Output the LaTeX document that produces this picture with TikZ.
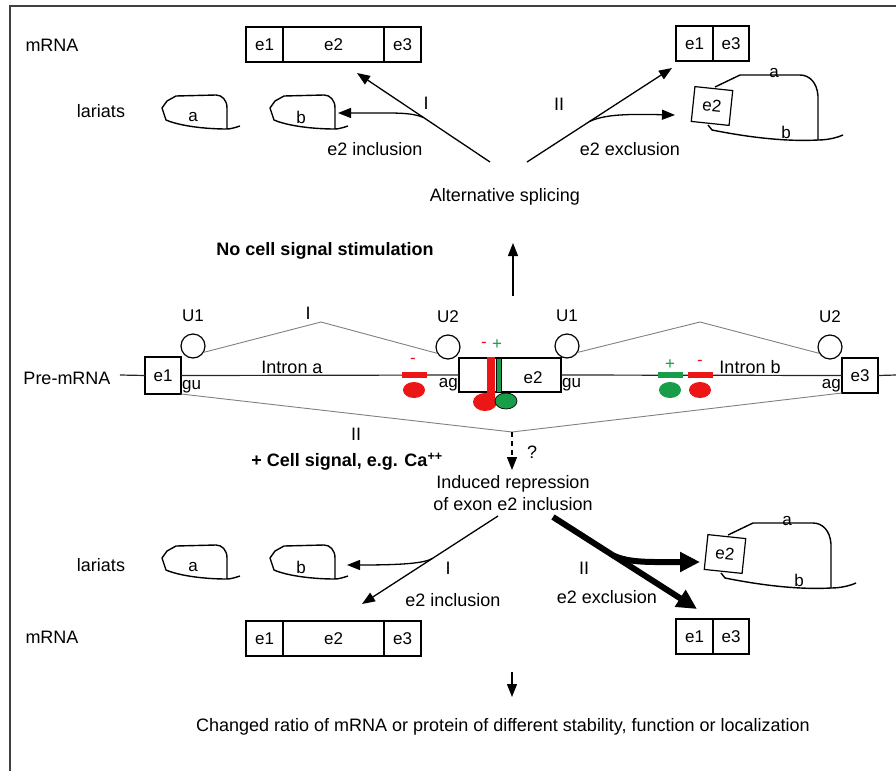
\documentclass[tikz,border=0pt]{standalone}
\usepackage{fontspec}
\setmainfont{Liberation Sans}
\usetikzlibrary{arrows.meta, positioning, calc}
\definecolor{sgred}{RGB}{236, 22, 22}
\definecolor{sggreen}{RGB}{24, 158, 72}
\definecolor{framegray}{gray}{0.25}
\newcommand{\maintxt}{\fontsize{18}{21.6}\selectfont}
\newcommand{\smalltxt}{\fontsize{17}{20}\selectfont}
\tikzset{
  exon/.style={draw, line width=1.2pt, outer sep=0pt, inner sep=0pt, minimum height=35pt, font=\smalltxt},
  snrnp/.style={draw, circle, line width=1.2pt, minimum size=24pt, inner sep=0pt},
  splice/.style={gray, line width=0.9pt},
  strand/.style={black!85, line width=1.2pt},
  lar/.style={line width=1.4pt, line join=round},
  arr/.style={line width=1.3pt, -{Triangle[length=13pt,width=10pt]}},
  bigarr/.style={line width=6pt, -{Triangle[length=20pt,width=19pt]}},
  lbl/.style={font=\maintxt, inner sep=0pt},
  slbl/.style={font=\smalltxt, inner sep=1pt},
}
% lariat: x, y, name, label
\newcommand{\lariat}[4]{%
  \begin{scope}[shift={(#1,#2)}]
    \draw[lar] (47,9) .. controls (41,11) and (37,12) .. (34,12) -- (34,-9)
      .. controls (34,-17) and (29,-22) .. (23,-22) -- (-17,-21) -- (-26,-16)
      -- (-31,-9) -- (-27,3) .. controls (-13,9) and (12,12) .. (34,12);
    \node[slbl] (#3) at (0,0) {#4};
  \end{scope}}
% lariat with exon e2: x, y, name
\newcommand{\exlariat}[3]{%
  \begin{scope}[shift={(#1,#2)}]
    \node[exon, minimum width=38pt, minimum height=35pt, rotate=-6] (#3) at (0,0) {e2};
    \draw[lar] (3,-19) -- (28,-31) -- (88,-31) .. controls (97,-31) and (105,-24) .. (106,-10) -- (106,34);
    \draw[lar] (-4,19) -- (0,24) .. controls (30,30) and (70,36) .. (106,34)
      .. controls (115,34) and (124,32) .. (131,29);
    \node[slbl] (#3-a) at (62,-33) {a};
    \node[slbl] (#3-b) at (74,26) {b};
  \end{scope}}

\begin{document}
\begin{tikzpicture}[x=1pt, y=-1pt]
  \useasboundingbox (0,0) rectangle (896,771);
  % frame
  \draw[line width=2pt, framegray] (10,771) -- (10,6) -- (896,6);

  % no signal: products
  \node[lbl] (tmrna) at (52,45) {mRNA};
  \node[lbl] (tlar) at (101,111) {lariats};
  \node[exon, minimum width=37pt] (te1) at (264.5,44.5) {e1};
  \node[exon, minimum width=101pt, right=0pt of te1] (te2) {e2};
  \node[exon, minimum width=37pt, right=0pt of te2] (te3) {e3};
  \node[exon, minimum width=37pt] (tx1) at (694.5,43.5) {e1};
  \node[exon, minimum width=36pt, right=0pt of tx1] (tx3) {e3};
  \lariat{193}{117}{tla}{a}
  \lariat{301}{117}{tlb}{b}
  \exlariat{712}{106}{tle}

  \coordinate (tIs) at (490,162);
  \coordinate (tIe) at (357,73);
  \coordinate (tIj) at ($(tIs)!0.5!(tIe)$);
  \coordinate (tIb) at (338,113);
  \draw[arr] (tIs) -- (tIe);
  \draw[arr] (tIj) .. controls (410,112) and (395,113) .. (tIb);
  \coordinate (tIIs) at (527,162);
  \coordinate (tIIe) at (672,68);
  \coordinate (tIIj) at ($(tIIs)!0.43!(tIIe)$);
  \coordinate (tIIb) at (675,115);
  \draw[arr] (tIIs) -- (tIIe);
  \draw[arr] (tIIj) .. controls (605,114) and (630,114) .. (tIIb);

  \node[lbl] (tI) at (426,103) {I};
  \node[lbl] (tII) at (559,104) {II};
  \node[lbl] (tinc) at (375,149) {e2 inclusion};
  \node[lbl] (texc) at (630,149) {e2 exclusion};
  \node[lbl] (alt) at (505,197) {Alternative splicing};
  \node[lbl, font=\maintxt\bfseries] (nosig) at (325,251) {No cell signal stimulation};
  \coordinate (upS) at (513,296);
  \coordinate (upE) at (513,243);
  \draw[arr] (upS) -- (upE);

  % pre-mRNA
  \node[lbl] (pre) at (67,378) {Pre-mRNA};
  \node[exon, minimum width=36pt, minimum height=37pt] (pe1) at (163,375.5) {e1};
  \node[exon, minimum width=102pt, minimum height=34pt] (pe2) at (510,375) {};
  \node[exon, minimum width=36pt, minimum height=35pt] (pe3) at (860,375.5) {e3};
  \node[slbl] (pe2t) at (533,378) {e2};
  \coordinate (preS) at (120,375);
  \coordinate (preE) at (896,375);
  \draw[strand] (preS) -- (pe1.west) (pe1.east) -- (pe2.west)
    (pe2.east) -- (pe3.west) (pe3.east) -- (preE);

  \node[snrnp] (u1a) at (193,346) {};
  \node[snrnp] (u2a) at (448,347) {};
  \node[snrnp] (u1b) at (567,346) {};
  \node[snrnp] (u2b) at (830,347) {};
  \foreach \cn/\cl in {u1a/U1, u2a/U2, u1b/U1, u2b/U2}
    \node[slbl, above=11pt of \cn] (l\cn) {\cl};

  \coordinate (pkI) at (321,322);
  \coordinate (pkIb) at (700,322);
  \coordinate (pkII) at (512,432);
  \draw[splice] (u1a.-30) -- (pkI) -- (u2a.210);
  \draw[splice] (u1b.-30) -- (pkIb) -- (u2b.210);
  \draw[splice] (pe1.south east) -- (pkII) -- (pe3.south west);
  \node[lbl] (pI) at (308,313) {I};
  \node[lbl] (pII) at (356,434) {II};
  \node[lbl] (ina) at (292,367) {Intron a};
  \node[lbl] (inb) at (750,367) {Intron b};

  \node[slbl, anchor=south west] (gua) at (pe1.south east) {gu};
  \node[slbl, anchor=south east] (aga) at (pe2.south west) {ag};
  \node[slbl, anchor=south west] (gub) at (pe2.south east) {gu};
  \node[slbl, anchor=south east] (agb) at (pe3.south west) {ag};

  % regulators, intron a
  \fill[sgred] (402,372) rectangle (427,378);
  \fill[sgred] (414,390) ellipse [x radius=11pt, y radius=8pt];
  \node[slbl, text=sgred] (ma) at (413,361) {-};
  % regulators, exon e2
  \fill[sgred] (487,357) rectangle (495,397);
  \filldraw[fill=sggreen, draw=black, line width=0.7pt] (496,358) rectangle (501,392);
  \fill[sgred] (485,402) ellipse [x radius=12pt, y radius=9pt];
  \filldraw[fill=sggreen, draw=black, line width=0.7pt] (506,401) ellipse [x radius=11pt, y radius=8pt];
  \node[slbl, text=sgred] (me2) at (484,345) {-};
  \node[slbl, text=sggreen] (pse2) at (497,345) {+};
  % regulators, intron b
  \fill[sggreen] (658,372) rectangle (683,378);
  \fill[sggreen] (670,390) ellipse [x radius=11pt, y radius=8pt];
  \fill[sgred] (688,372) rectangle (713,378);
  \fill[sgred] (700,390) ellipse [x radius=11pt, y radius=8pt];
  \node[slbl, text=sggreen] (pb) at (670,365) {+};
  \node[slbl, text=sgred] (mb) at (700,363) {-};

  % cell signal
  \coordinate (qtip) at (512,470);
  \draw[arr, dash pattern=on 5pt off 4pt] (pkII) -- (qtip);
  \node[lbl] (qm) at (532,452) {?};
  \node[lbl, font=\maintxt\bfseries] (sig) at (347,462) {+ Cell signal, e.g. Ca\textsuperscript{++}};
  \node[lbl, align=center] (rep) at (513,493) {Induced repression\\of exon e2 inclusion};

  % signal: products
  \coordinate (bIs) at (498,516);
  \coordinate (bIe) at (362,604);
  \coordinate (bIj) at ($(bIs)!0.48!(bIe)$);
  \coordinate (bIb) at (347,565);
  \draw[arr] (bIs) -- (bIe);
  \draw[arr] (bIj) .. controls (425,563) and (405,565) .. (bIb);
  \coordinate (bIIs) at (553,517);
  \coordinate (bIIe) at (697,609);
  \coordinate (bIIj) at ($(bIIs)!0.42!(bIIe)$);
  \coordinate (bIIb) at (700,562);
  \draw[bigarr] (bIIs) -- (bIIe);
  \draw[bigarr] (bIIj) .. controls (630,563) and (650,562) .. (bIIb);

  \node[lbl] (bI) at (448,568) {I};
  \node[lbl] (bII) at (584,568) {II};
  \node[lbl] (binc) at (453,600) {e2 inclusion};
  \node[lbl] (bexc) at (607,597) {e2 exclusion};
  \node[lbl] (blar) at (101,565) {lariats};
  \node[lbl] (bmrna) at (52,637) {mRNA};
  \lariat{193}{567}{bla}{a}
  \lariat{301}{567}{blb}{b}
  \exlariat{725}{554}{ble}
  \node[exon, minimum width=37pt] (be1) at (264.5,638.5) {e1};
  \node[exon, minimum width=101pt, right=0pt of be1] (be2) {e2};
  \node[exon, minimum width=37pt, right=0pt of be2] (be3) {e3};
  \node[exon, minimum width=37pt] (bx1) at (694.5,636.5) {e1};
  \node[exon, minimum width=36pt, right=0pt of bx1] (bx3) {e3};

  \coordinate (dnS) at (512,672);
  \coordinate (dnE) at (512,697);
  \draw[arr] (dnS) -- (dnE);
  \node[lbl] (ratio) at (503,727) {Changed ratio of mRNA or protein of different stability, function or localization};
\end{tikzpicture}
\end{document}
